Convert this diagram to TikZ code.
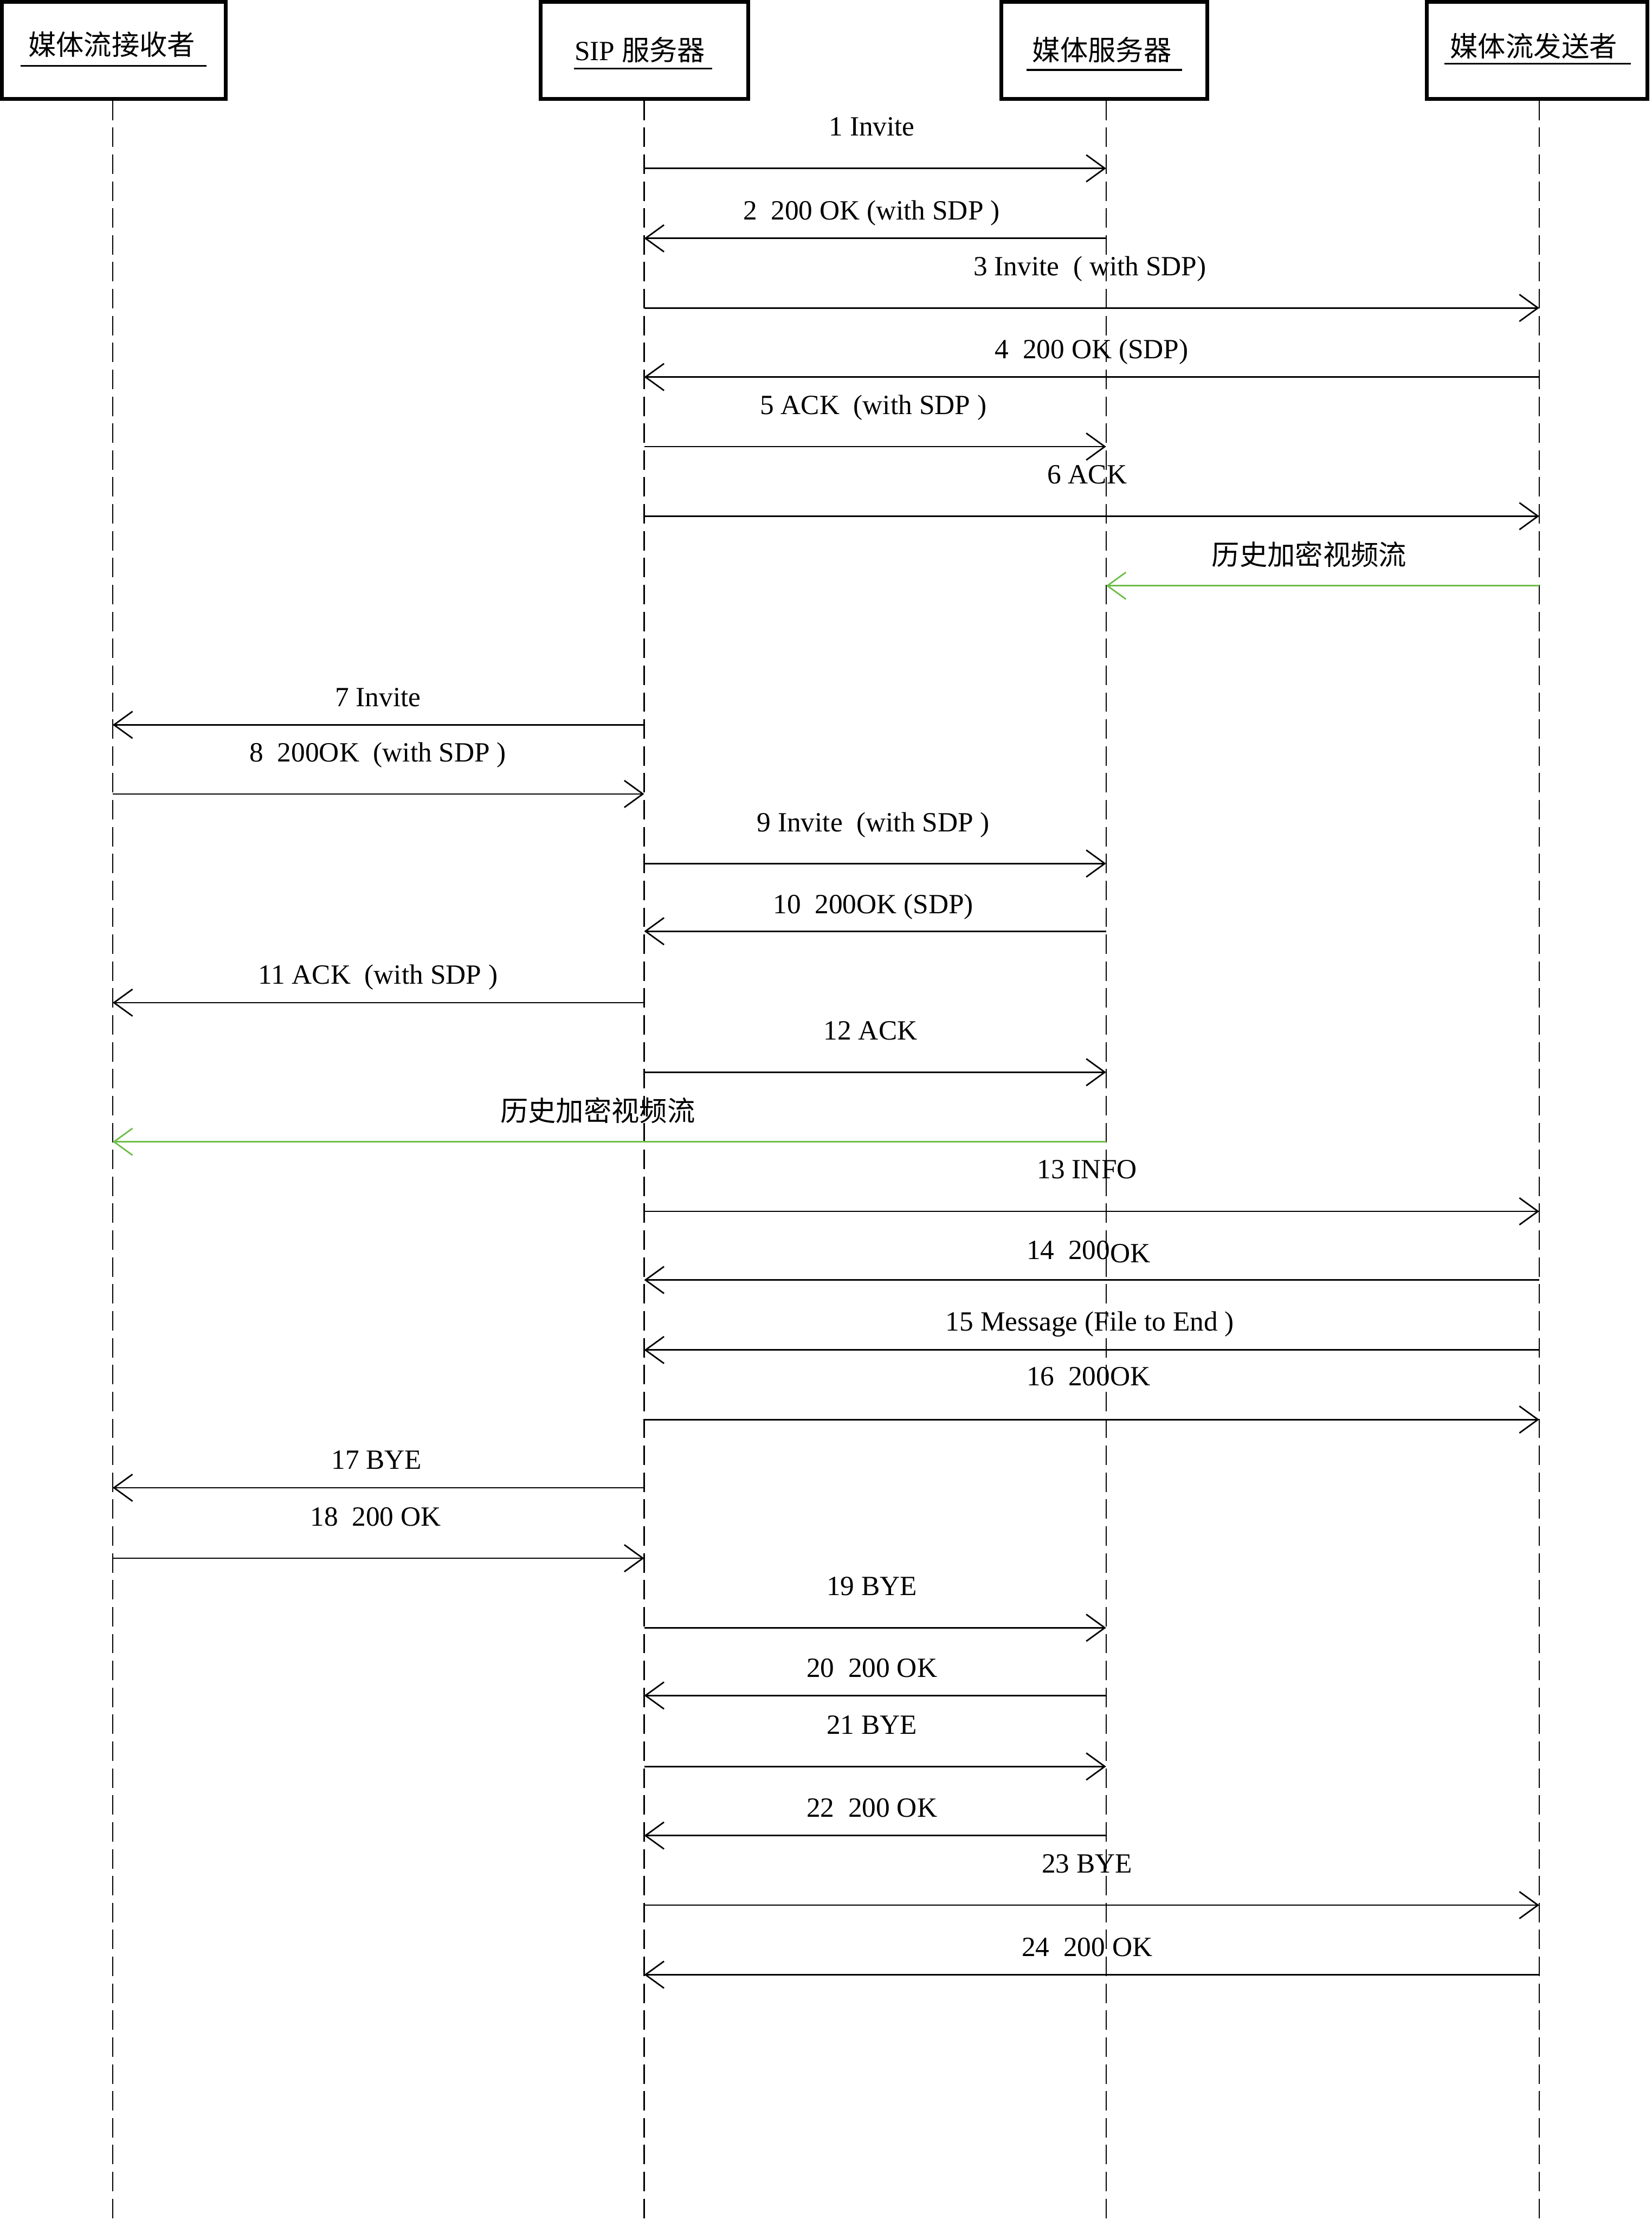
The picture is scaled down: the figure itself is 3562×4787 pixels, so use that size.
\documentclass[tikz,border=0pt]{standalone}
\usepackage{fontspec}
\setmainfont{Liberation Serif}
\newfontfamily\cjk{Noto Sans CJK SC}
\usetikzlibrary{arrows.meta}
\definecolor{streamgreen}{RGB}{109,190,69}
\newcommand\sipmsg[7]{%
  \coordinate (#1a) at (#2,#4);
  \coordinate (#1b) at (#3,#4);
  \draw[msgline] (#1a) -- (#1b);
  \node[msglabel] (#1l) at (#5,#6) {#7};}
\newcommand\sipstream[7]{%
  \coordinate (#1a) at (#2,#4);
  \coordinate (#1b) at (#3,#4);
  \draw[streamline] (#1a) -- (#1b);
  \node[streamlabel] (#1l) at (#5,#6) {#7};}
\begin{document}
\begin{tikzpicture}[x=0.2pt,y=-0.2pt,
  actorbox/.style={draw, line width=1.6pt, minimum height=41.8pt, inner sep=0pt},
  actortitle/.style={anchor=base, inner sep=0pt, font=\fontsize{12pt}{14pt}\selectfont},
  uline/.style={line width=0.8pt},
  lifeline/.style={line width=0.5pt, dash pattern=on 8.4pt off 3.2pt},
  msgline/.style={line width=0.65pt, -{Straight Barb[length=8pt,width=11.6pt]}},
  streamline/.style={line width=0.65pt, draw=streamgreen, -{Straight Barb[length=8pt,width=11.6pt]}},
  msglabel/.style={anchor=base, inner sep=0pt, font=\fontsize{12pt}{14pt}\selectfont},
  streamlabel/.style={anchor=base, inner sep=0pt, font=\fontsize{12pt}{14pt}\selectfont\cjk}]
\useasboundingbox (0,0) rectangle (3562,4787);
\fill[white] (0,0) rectangle (3562,4787);

% actor boxes
\node[actorbox, minimum width=96.6pt] (b1) at (245.5,108.5) {};
\node[actorbox, minimum width=89.4pt] (b2) at (1389.5,108.5) {};
\node[actorbox, minimum width=88.8pt] (b3) at (2381,108.5) {};
\node[actorbox, minimum width=95pt] (b4) at (3314.5,108.5) {};

\node[actortitle] (t1) at (241,119) {\cjk 媒体流接收者};
\node[actortitle] (t2) at (1380,130) {SIP {\cjk 服务器}};
\node[actortitle] (t3) at (2376,130) {\cjk 媒体服务器};
\node[actortitle] (t4) at (3307,122) {\cjk 媒体流发送者};

\draw[uline] (44,142) -- (445,142);
\draw[uline] (1238,148) -- (1536,148);
\draw[uline] (2213,151) -- (2549,151);
\draw[uline] (3115,137) -- (3516,137);

% lifelines
\coordinate (l1top) at (243,217);  \coordinate (l1bot) at (243,4787);
\coordinate (l2top) at (1389,217); \coordinate (l2bot) at (1389,4787);
\coordinate (l3top) at (2385,217); \coordinate (l3bot) at (2385,4787);
\coordinate (l4top) at (3319,217); \coordinate (l4bot) at (3319,4787);
\draw[lifeline] (l1top) -- (l1bot);
\draw[lifeline] (l2top) -- (l2bot);
\draw[lifeline] (l3top) -- (l3bot);
\draw[lifeline] (l4top) -- (l4bot);

% messages
\sipmsg{m1}{1389}{2385}{363}{1880}{293}{1 Invite}
\sipmsg{m2}{2385}{1389}{514}{1879}{474}{2\ \ 200 OK (with SDP )}
\sipmsg{m3}{1389}{3319}{664}{2350}{594}{3 Invite\ \ ( with SDP)}
\sipmsg{m4}{3319}{1389}{813}{2354}{773}{4\ \ 200 OK (SDP)}
\sipmsg{m5}{1389}{2385}{963}{1883}{894}{5 ACK\ \ (with SDP )}
\sipmsg{m6}{1389}{3319}{1113}{2344}{1043}{6 ACK}
\sipstream{g1}{3319}{2385}{1263}{2823}{1218}{历史加密视频流}
\sipmsg{m7}{1389}{243}{1563}{815}{1523}{7 Invite}
\sipmsg{m8}{243}{1389}{1712}{815}{1643}{8\ \ 200OK\ \ (with SDP )}
\sipmsg{m9}{1389}{2385}{1862}{1883}{1793}{9 Invite\ \ (with SDP )}
\sipmsg{m10}{2385}{1389}{2008}{1883}{1970}{10\ \ 200OK (SDP)}
\sipmsg{m11}{1389}{243}{2162}{815}{2122}{11 ACK\ \ (with SDP )}
\sipmsg{m12}{1389}{2385}{2312}{1877}{2242}{12 ACK}
\sipstream{g2}{2385}{243}{2462}{1289}{2418}{历史加密视频流}
\sipmsg{m13}{1389}{3319}{2612}{2344}{2541}{13 INFO}
\sipmsg{m14}{3319}{1389}{2760}{2347}{2716}{14\ \ 200\raisebox{-1.2pt}{OK}}
\sipmsg{m15}{3319}{1389}{2911}{2350}{2870}{15 Message (File to End )}
\sipmsg{m16}{1389}{3319}{3061}{2347}{2988}{16\ \ 200OK}
\sipmsg{m17}{1389}{243}{3208}{812}{3168}{17 BYE}
\sipmsg{m18}{243}{1389}{3360}{810}{3290}{18\ \ 200 OK}
\sipmsg{m19}{1389}{2385}{3510}{1880}{3440}{19 BYE}
\sipmsg{m20}{2385}{1389}{3656}{1880}{3616}{20\ \ 200 OK}
\sipmsg{m21}{1389}{2385}{3809}{1880}{3739}{21 BYE}
\sipmsg{m22}{2385}{1389}{3958}{1880}{3918}{22\ \ 200 OK}
\sipmsg{m23}{1389}{3319}{4108}{2344}{4038}{23 BYE}
\sipmsg{m24}{3319}{1389}{4258}{2344}{4218}{24\ \ 200 OK}
\end{tikzpicture}
\end{document}
